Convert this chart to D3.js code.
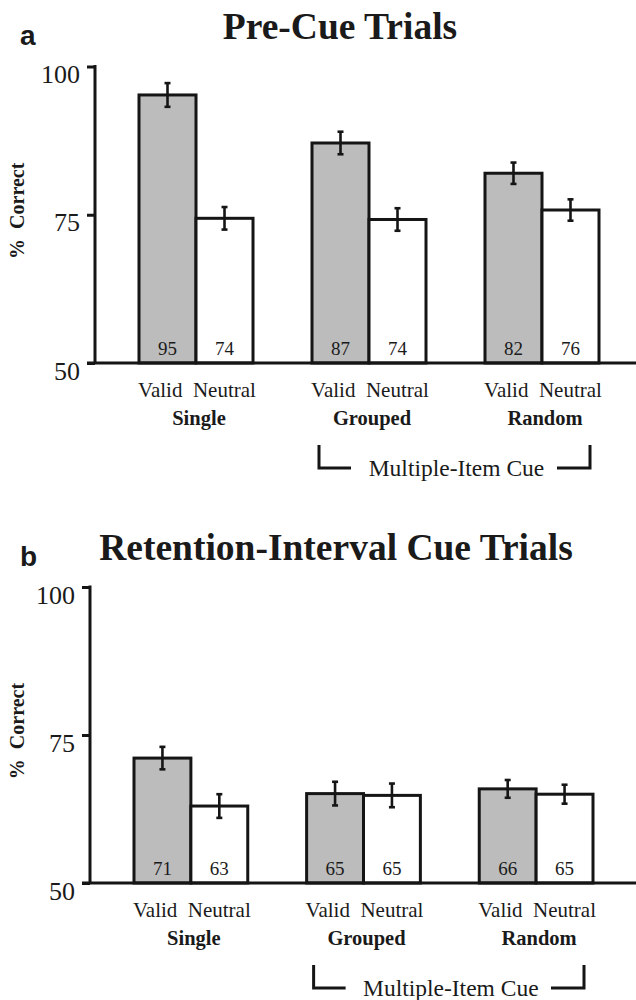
<!DOCTYPE html>
<html>
<head>
<meta charset="utf-8">
<script src="https://cdn.jsdelivr.net/npm/d3@7"></script>
<style>
  body { margin: 0; background: #fff; }
  svg { display: block; }
  text { font-family: 'Liberation Serif', 'Times New Roman', serif; fill: #1a1a1a; }
</style>
</head>
<body>
<svg id="chart" width="636" height="1000"></svg>
<script>
const groups = ['Single', 'Grouped', 'Random']
const conditions = ['Valid', 'Neutral']
const yTicks = [50, 75, 100]

// Pre-cue trials
const preCueValid = [95.2, 87.1, 82.0]
const preCueNeutral = [74.4, 74.2, 75.8]
const preCueValidErr = [2.0, 1.9, 1.8]
const preCueNeutralErr = [1.9, 1.9, 1.8]
const preCueValidLabels = ['95', '87', '82']
const preCueNeutralLabels = ['74', '74', '76']

// Retention-interval cue trials
const retentionValid = [71.1, 65.1, 65.9]
const retentionNeutral = [63.0, 64.8, 65.0]
const retentionValidErr = [1.9, 2.0, 1.5]
const retentionNeutralErr = [2.0, 2.0, 1.6]
const retentionValidLabels = ['71', '65', '66']
const retentionNeutralLabels = ['63', '65', '65']

const svg = d3.select('#chart')
const ink = '#151515'

function toRows(valid, neutral, validErr, neutralErr, validLabels, neutralLabels) {
  const rows = []
  groups.forEach((g, i) => {
    rows.push({group: g, cond: 'Valid', value: valid[i], err: validErr[i], label: validLabels[i]})
    rows.push({group: g, cond: 'Neutral', value: neutral[i], err: neutralErr[i], label: neutralLabels[i]})
  })
  return rows
}

function panel(opts) {
  const {letter, title, titleX, titleY, axisX, top, bottom, barsLeft, barsRight, rows} = opts
  const g = svg.append('g')

  const y = d3.scaleLinear().domain([50, 100]).range([bottom, top])
  const x = d3.scaleBand().domain(groups).range([barsLeft, barsRight]).paddingInner(0.341).paddingOuter(0)
  const xInner = d3.scaleBand().domain(conditions).range([0, x.bandwidth()])

  // letter + title
  g.append('text')
    .attr('x', 20).attr('y', titleY + 6)
    .style('font-family', "'Liberation Sans', Arial, sans-serif")
    .style('font-weight', 'bold').style('font-size', '28px')
    .text(letter)
  g.append('text')
    .attr('x', titleX).attr('y', titleY)
    .attr('text-anchor', 'middle')
    .style('font-weight', 'bold').style('font-size', '37.5px')
    .text(title)

  // y axis
  const axis = g.append('g')
    .attr('transform', `translate(${axisX}, 0)`)
    .call(d3.axisLeft(y).tickValues(yTicks).tickSize(8).tickPadding(7).tickFormat(d3.format('d')))
  axis.select('.domain').remove()
  axis.selectAll('.tick line').attr('stroke', ink).attr('stroke-width', 3)
  axis.selectAll('.tick text')
    .attr('dy', '0.62em')
    .style('font-size', '26px').style('font-family', "'Liberation Serif', serif")
    .attr('fill', '#1a1a1a')
  g.append('line')
    .attr('x1', axisX).attr('x2', axisX)
    .attr('y1', y(100) - 1.5).attr('y2', y(50))
    .attr('stroke', ink).attr('stroke-width', 3)

  g.append('text')
    .attr('transform', `translate(24, ${y(75) - 4}) rotate(-90)`)
    .attr('text-anchor', 'middle')
    .style('font-weight', 'bold').style('font-size', '20px')
    .style('white-space', 'pre')
    .text('%  Correct')

  // bars
  const bars = g.append('g')
  bars.selectAll('rect')
    .data(rows)
    .join('rect')
    .attr('x', d => x(d.group) + xInner(d.cond))
    .attr('y', d => y(d.value))
    .attr('width', xInner.bandwidth())
    .attr('height', d => y(50) - y(d.value))
    .attr('fill', d => d.cond === 'Valid' ? '#bcbcbc' : '#fff')
    .attr('stroke', ink)
    .attr('stroke-width', 3)

  // error bars
  const errs = g.append('g').attr('stroke', ink).attr('stroke-width', 2.6)
  rows.forEach(d => {
    const cx = x(d.group) + xInner(d.cond) + xInner.bandwidth() / 2
    errs.append('line').attr('x1', cx).attr('x2', cx).attr('y1', y(d.value + d.err)).attr('y2', y(d.value - d.err))
    errs.append('line').attr('x1', cx - 3).attr('x2', cx + 3).attr('y1', y(d.value + d.err)).attr('y2', y(d.value + d.err))
    errs.append('line').attr('x1', cx - 3).attr('x2', cx + 3).attr('y1', y(d.value - d.err)).attr('y2', y(d.value - d.err))
  })

  // value labels inside bars
  g.append('g').selectAll('text')
    .data(rows)
    .join('text')
    .attr('x', d => x(d.group) + xInner(d.cond) + xInner.bandwidth() / 2)
    .attr('y', y(50) - 8)
    .attr('text-anchor', 'middle')
    .style('font-size', '19px')
    .attr('fill', '#333')
    .text(d => d.label)

  // baseline
  g.append('line')
    .attr('x1', axisX - 8).attr('x2', 636)
    .attr('y1', y(50)).attr('y2', y(50))
    .attr('stroke', ink).attr('stroke-width', 3)

  // condition + group labels
  groups.forEach(grp => {
    const cx = x(grp) + x.bandwidth() / 2
    const t = g.append('text')
      .attr('x', cx + 1).attr('y', y(50) + 34)
      .attr('text-anchor', 'middle')
      .style('font-size', '21px')
      .style('white-space', 'pre')
    t.text(conditions.join('  '))
    g.append('text')
      .attr('x', cx + 3).attr('y', y(50) + 62)
      .attr('text-anchor', 'middle')
      .style('font-weight', 'bold').style('font-size', '20.5px')
      .text(grp)
  })

  // multiple-item cue bracket
  const bl = x('Grouped') + 7
  const br = x('Random') + x.bandwidth() - 9
  const bt = y(50) + 82
  const bb = y(50) + 105
  g.append('path')
    .attr('d', `M${bl},${bt} V${bb} H${bl + 32} M${br - 33},${bb} H${br} V${bt}`)
    .attr('fill', 'none').attr('stroke', ink).attr('stroke-width', 3)
  g.append('text')
    .attr('x', (bl + br) / 2 + 2).attr('y', y(50) + 113)
    .attr('text-anchor', 'middle')
    .style('font-size', '23.5px')
    .text('Multiple-Item Cue')
}

panel({
  letter: 'a', title: 'Pre-Cue Trials', titleX: 340, titleY: 39,
  axisX: 95, top: 66.5, bottom: 363, barsLeft: 139, barsRight: 599,
  rows: toRows(preCueValid, preCueNeutral, preCueValidErr, preCueNeutralErr, preCueValidLabels, preCueNeutralLabels)
})

panel({
  letter: 'b', title: 'Retention-Interval Cue Trials', titleX: 336, titleY: 560,
  axisX: 90, top: 587, bottom: 883, barsLeft: 134, barsRight: 593,
  rows: toRows(retentionValid, retentionNeutral, retentionValidErr, retentionNeutralErr, retentionValidLabels, retentionNeutralLabels)
})
</script>
</body>
</html>
